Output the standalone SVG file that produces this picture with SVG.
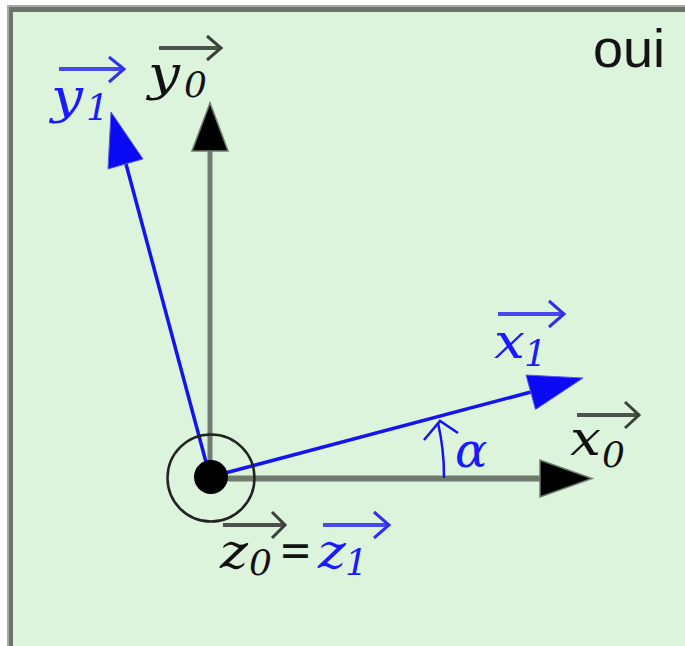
<svg xmlns="http://www.w3.org/2000/svg" width="685" height="646" viewBox="0 0 685 646">
  <defs>
    <style>
      .lbl { font-family: "DejaVu Serif", "Liberation Serif", serif; font-style: italic; font-size: 48px; }
      .sub { font-family: "DejaVu Serif", "Liberation Serif", serif; font-style: italic; font-size: 36px; }
      .blk { fill: #111111; }
      .blu { fill: #1a1aff; }
      .axis { stroke: #6e7b6e; fill: none; }
      .head { fill: #000000; stroke: #6e7b6e; stroke-width: 1.5; stroke-linejoin: miter; }
      .bvec { stroke: #1414f0; stroke-width: 3.5; fill: none; }
      .bhead { fill: #0a0af5; stroke: #5a5af0; stroke-width: 1; }
      .varr-k { stroke: #4a524a; stroke-width: 4; fill: none; stroke-linecap: butt; }
      .varr-kh { stroke: #3a403a; stroke-width: 3; fill: none; stroke-linejoin: miter; }
      .varr-b { stroke: #4848f0; stroke-width: 4; fill: none; }
      .varr-bh { stroke: #3030f0; stroke-width: 3; fill: none; }
    </style>
  </defs>

  <g id="frame">
    <rect x="0" y="0" width="685" height="646" fill="#ffffff"/>
    <rect x="7" y="5" width="678" height="641" fill="#a8aca8"/>
    <rect x="9" y="7" width="676" height="639" fill="#6b756b"/>
    <rect x="13" y="12" width="672" height="634" fill="#dcf4dc"/>
  </g>

  <g id="label-oui">
    <text x="593" y="67" font-family="'Liberation Sans', Arial, sans-serif" font-size="54" fill="#141414">oui</text>
  </g>

  <g id="connectors">
    <g id="axis-y0">
      <line class="axis" x1="210" y1="478" x2="210" y2="150" stroke-width="5"/>
      <polygon class="head" points="210,103 192,151 228,151"/>
    </g>
    <g id="axis-x0">
      <line class="axis" x1="210" y1="478.5" x2="541" y2="478.5" stroke-width="6"/>
      <polygon class="head" points="592,478.5 540,460 540,497"/>
    </g>
    <g id="vector-x1">
      <line class="bvec" x1="210" y1="477" x2="531" y2="392"/>
      <polygon class="bhead" points="583,378 526,375 535.5,409.5"/>
    </g>
    <g id="vector-y1">
      <line class="bvec" x1="210" y1="477" x2="126" y2="164"/>
      <polygon class="bhead" points="111,112 108,169 143,159"/>
    </g>
    <g id="angle-alpha">
      <path d="M444,478 A234,234 0 0 0 438,423" stroke="#1414f0" stroke-width="2.5" fill="none"/>
      <path d="M424,440 L440,421 L458,433" stroke="#1414f0" stroke-width="2.5" fill="none"/>
    </g>
  </g>

  <g id="origin">
    <circle cx="211" cy="478" r="43.5" fill="none" stroke="#222222" stroke-width="2.5"/>
    <circle cx="211" cy="477" r="17" fill="#000000"/>
  </g>

  <g id="label-y0">
    <line class="varr-k" x1="159" y1="48" x2="220" y2="48"/>
    <path class="varr-kh" d="M207,36 L221,48 L207,60"/>
    <text class="lbl blk" x="148" y="90" textLength="32" lengthAdjust="spacingAndGlyphs">y</text>
    <text class="sub blk" x="184" y="97">0</text>
  </g>

  <g id="label-y1">
    <line class="varr-b" x1="59" y1="69" x2="123" y2="69"/>
    <path class="varr-bh" d="M109,57 L124,69 L109,82"/>
    <text class="lbl blu" x="51" y="113" textLength="32" lengthAdjust="spacingAndGlyphs">y</text>
    <text class="sub blu" x="86" y="120">1</text>
  </g>

  <g id="label-x1">
    <line class="varr-b" x1="498" y1="314" x2="563" y2="314" stroke="#6b78ee"/>
    <path class="varr-bh" d="M549,301 L564,314 L549,327"/>
    <text class="lbl blu" x="494" y="358" textLength="31" lengthAdjust="spacingAndGlyphs">x</text>
    <text class="sub blu" x="524" y="366">1</text>
  </g>

  <g id="label-x0">
    <line class="varr-k" x1="577" y1="415" x2="638" y2="415"/>
    <path class="varr-kh" d="M625,402 L639,415 L625,428"/>
    <text class="lbl blk" x="570" y="455" textLength="31" lengthAdjust="spacingAndGlyphs">x</text>
    <text class="sub blk" x="602" y="467">0</text>
  </g>

  <g id="label-alpha">
    <text class="lbl blu" x="455" y="467">α</text>
  </g>

  <g id="label-z">
    <line class="varr-k" x1="223" y1="525" x2="284" y2="525"/>
    <path class="varr-kh" d="M272,512 L285,525 L272,538"/>
    <line class="varr-b" x1="323" y1="525" x2="388" y2="525"/>
    <path class="varr-bh" d="M374,512 L389,525 L374,538"/>
    <text class="lbl blk" x="220" y="568" textLength="28" lengthAdjust="spacingAndGlyphs">z</text>
    <text class="sub blk" x="249" y="575">0</text>
    <text class="lbl blk" x="279" y="567" font-style="normal" font-size="44" textLength="33" lengthAdjust="spacingAndGlyphs">=</text>
    <text class="lbl blu" x="318" y="568" textLength="28" lengthAdjust="spacingAndGlyphs">z</text>
    <text class="sub blu" x="345" y="575">1</text>
  </g>
</svg>
